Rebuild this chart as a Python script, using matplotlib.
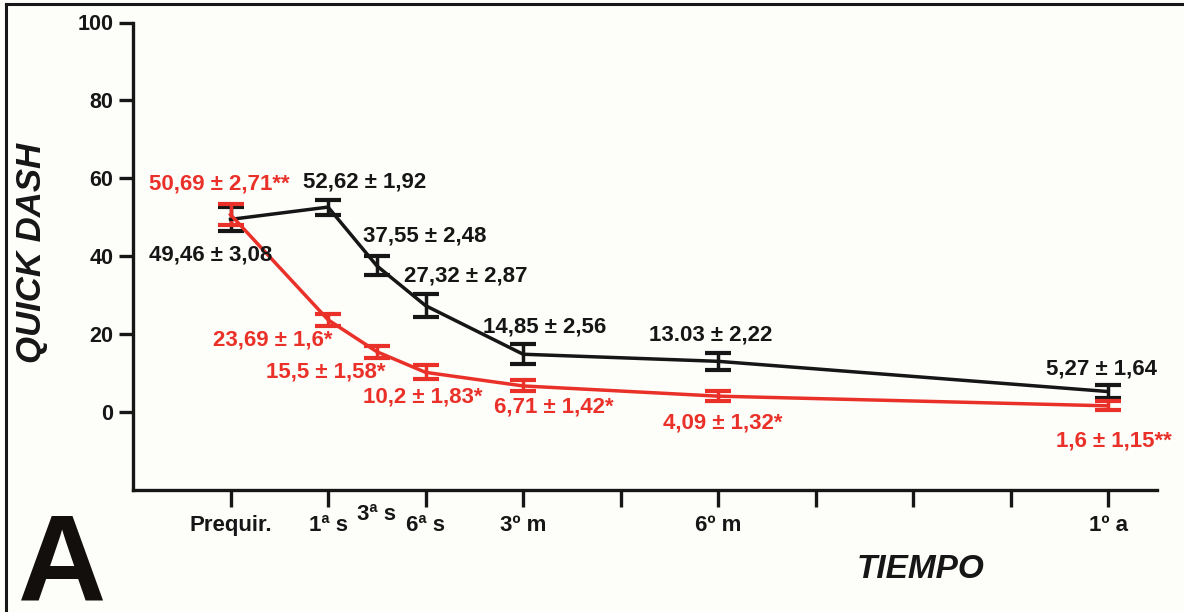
import matplotlib
matplotlib.use("Agg")
import matplotlib.pyplot as plt
from matplotlib.lines import Line2D
from matplotlib.transforms import blended_transform_factory

plt.rcParams['font.family'] = ['Liberation Sans', 'DejaVu Sans']

# Follow-up times (position on the time axis) and their labels
time_labels = ["Prequir.", "1ª s", "3ª s", "6ª s", "3º m", "6º m", "1º a"]
time_pos = [0, 1, 1.5, 2, 3, 5, 9]

# QuickDASH mean ± SD per group
black_mean = [49.46, 52.62, 37.55, 27.32, 14.85, 13.03, 5.27]
black_sd = [3.08, 1.92, 2.48, 2.87, 2.56, 2.22, 1.64]
red_mean = [50.69, 23.69, 15.5, 10.2, 6.71, 4.09, 1.6]
red_sd = [2.71, 1.6, 1.58, 1.83, 1.42, 1.32, 1.15]

black_text = ["49,46 ± 3,08", "52,62 ± 1,92", "37,55 ± 2,48", "27,32 ± 2,87",
              "14,85 ± 2,56", "13.03 ± 2,22", "5,27 ± 1,64"]
red_text = ["50,69 ± 2,71**", "23,69 ± 1,6*", "15,5 ± 1,58*", "10,2 ± 1,83*",
            "6,71 ± 1,42*", "4,09 ± 1,32*", "1,6 ± 1,15**"]

# label offsets from each point (pixels)
black_off = [(-20, -36), (37, 25), (48, 30), (40, 30), (22, 27), (-7, 26), (-7, 23)]
red_off = [(-11, 31), (-55, -20), (-51, -20), (-3, -25), (31, -21), (5, -27), (6, -35)]

BLACK = "#161616"
RED = "#ea3129"
BG = "#fdfdfa"

fig = plt.figure(figsize=(11.84, 6.12), dpi=100, facecolor=BG)
ax = fig.add_axes([133 / 1184, 1 - 490 / 612, (1157 - 133) / 1184, (490 - 22.5) / 612])
ax.set_facecolor(BG)

for mean, sd, col in [(black_mean, black_sd, BLACK), (red_mean, red_sd, RED)]:
    ax.errorbar(time_pos, mean, yerr=sd, color=col, lw=2.5, elinewidth=2.5,
                capsize=9.5, capthick=3.0, zorder=3)

for x, m, t, (dx, dy) in zip(time_pos, black_mean, black_text, black_off):
    ax.annotate(t, (x, m), xytext=(dx, dy), textcoords="offset pixels",
                ha="center", va="center", fontsize=16, fontweight="bold",
                color=BLACK, zorder=5)
for x, m, t, (dx, dy) in zip(time_pos, red_mean, red_text, red_off):
    ax.annotate(t, (x, m), xytext=(dx, dy), textcoords="offset pixels",
                ha="center", va="center", fontsize=16, fontweight="bold",
                color=RED, zorder=5)

ax.set_xlim(-1, 9.5)
ax.set_ylim(-20, 100)
ax.set_yticks([0, 20, 40, 60, 80, 100])
ax.set_xticks(range(10))
tick_names = [""] * 10
for p, lab in zip(time_pos, time_labels):
    if float(p).is_integer():
        tick_names[int(p)] = lab
ax.set_xticklabels(tick_names)

# the 3ª s label sits between ticks, raised
trans = blended_transform_factory(ax.transData, ax.transAxes)
for p, lab in zip(time_pos, time_labels):
    if not float(p).is_integer():
        ax.text(p, -0.052, lab, transform=trans, ha="center", va="center",
                fontsize=16, fontweight="bold", color=BLACK)

for s in ["top", "right"]:
    ax.spines[s].set_visible(False)
for s in ["left", "bottom"]:
    ax.spines[s].set_linewidth(2.4)
    ax.spines[s].set_color(BLACK)
ax.spines["left"].set_bounds(-20, 100)

ax.tick_params(axis="y", direction="out", length=10, width=2.4, pad=4,
               labelsize=15.5, colors=BLACK)
ax.tick_params(axis="x", direction="out", length=12, width=2.4, pad=6,
               labelsize=16, colors=BLACK)
for lab in ax.get_xticklabels() + ax.get_yticklabels():
    lab.set_fontweight("bold")

fig.text(32 / 1184, 1 - 253 / 612, "QUICK DASH", rotation=90, ha="center",
         va="center", fontsize=25, fontweight="bold", style="italic", color=BLACK)
fig.text(921 / 1184, 1 - 570 / 612, "TIEMPO", ha="center", va="center",
         fontsize=24, fontweight="bold", style="italic", color=BLACK)
fig.text(62 / 1184, 1 - 600 / 612, "A", ha="center", va="baseline",
         fontsize=88, fontweight="bold", color="#120f0d")

# panel frame: top and left edges
fig.add_artist(Line2D([6 / 1184, 1], [1 - 4 / 612, 1 - 4 / 612], color=BLACK,
                      lw=2.2, transform=fig.transFigure))
fig.add_artist(Line2D([6 / 1184, 6 / 1184], [0, 1 - 4 / 612], color=BLACK,
                      lw=2.2, transform=fig.transFigure))

fig.savefig("out.png", dpi=100, facecolor=BG)
